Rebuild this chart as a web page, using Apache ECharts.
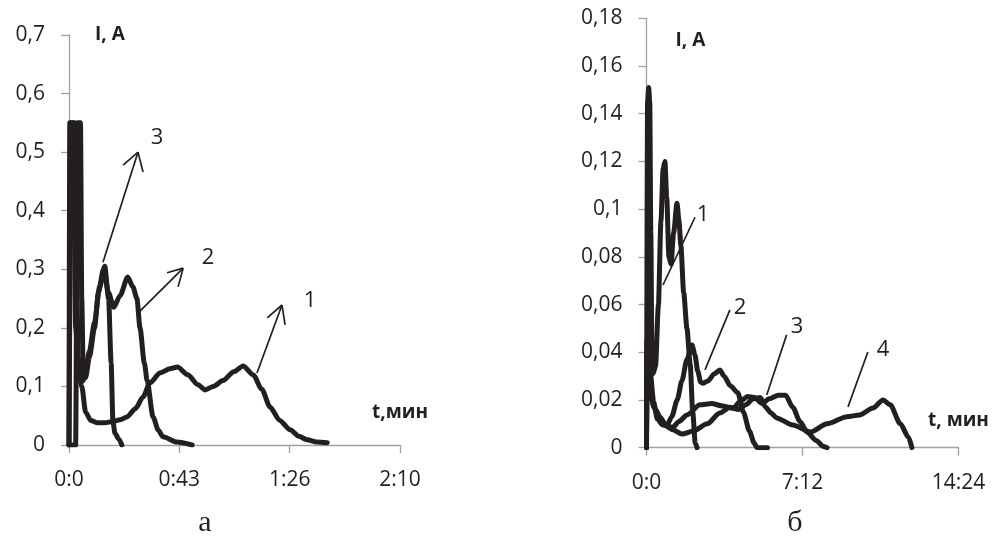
<!DOCTYPE html>
<html>
<head>
<meta charset="utf-8">
<script src="https://cdn.jsdelivr.net/npm/echarts@6/dist/echarts.min.js"></script>
<style>html,body{margin:0;padding:0;background:#fff}#c{width:997px;height:542px}</style>
</head>
<body>
<div id="c"></div>
<script>
// ---------- Panel "а" (time in seconds, current in A) ----------
const aXTicks = ['0:0', '0:43', '1:26', '2:10'];
const a1T = [0, 0.3, 1.4, 2.0, 2.6, 4, 5, 6.5, 8.5, 11, 14, 17.2, 20, 22.7, 26, 29, 31.7, 35.6, 39.5, 42.5, 46.5, 50.5, 53.3, 56.5, 60.3, 64.5, 68.2, 72.1, 75.5, 78.7, 82.5, 86.6, 90, 93.2, 97, 101.1];
const a1I = [0, 0.55, 0.55, 0.4, 0.2, 0.12, 0.1, 0.056, 0.042, 0.038, 0.038, 0.04, 0.043, 0.048, 0.062, 0.082, 0.106, 0.123, 0.13, 0.133, 0.12, 0.103, 0.094, 0.1, 0.11, 0.125, 0.135, 0.12, 0.095, 0.065, 0.042, 0.026, 0.015, 0.009, 0.005, 0.004];
const a2T = [0, 2.6, 3.3, 4.5, 5.0, 5.6, 6.5, 8, 10, 11.5, 13.5, 15.5, 17.5, 20, 23, 25, 26.6, 27.8, 29.5, 30.6, 32.9, 35, 36.8, 42.3, 48.2];
const a2I = [0, 0, 0.55, 0.55, 0.25, 0.12, 0.115, 0.15, 0.2, 0.26, 0.3, 0.26, 0.235, 0.255, 0.287, 0.27, 0.25, 0.2, 0.14, 0.11, 0.048, 0.025, 0.014, 0.005, 0];
const a3T = [0, 0.9, 2.2, 2.8, 3.6, 4.5, 5.5, 6.5, 8, 10, 12, 14, 15.5, 16.5, 17.2, 18, 19.5, 20.7];
const a3I = [0, 0.55, 0.55, 0.35, 0.15, 0.115, 0.11, 0.13, 0.16, 0.21, 0.27, 0.305, 0.25, 0.14, 0.04, 0.02, 0.01, 0];

// annotation arrows for panel "а": [shaft start, tip, wing A, wing B] in data units, and label point
const aArrowNames = ['3', '2', '1'];
const aArrowStart = [[13.3, 0.312], [27.0, 0.225], [73.6, 0.123]];
const aArrowTip = [[27.0, 0.5], [44.7, 0.302], [83.4, 0.239]];
const aArrowWingA = [[21.2, 0.478], [38.4, 0.294], [77.6, 0.217]];
const aArrowWingB = [[29.0, 0.466], [42.7, 0.27], [84.6, 0.205]];
const aLabelPos = [[34.5, 0.524], [54.4, 0.319], [94.4, 0.247]];

// ---------- Panel "б" ----------
const bXTicks = ['0:0', '7:12', '14:24'];
const b1T = [0, 3, 6, 9, 12, 15, 18, 25, 33, 40, 46, 51, 56, 62, 68, 75, 84.5, 90, 95, 103, 112, 121, 128, 135, 140];
const b1I = [0, 0.145, 0.151, 0.145, 0.09, 0.04, 0.031, 0.034, 0.06, 0.095, 0.117, 0.12, 0.105, 0.08, 0.077, 0.09, 0.1025, 0.095, 0.085, 0.065, 0.05, 0.035, 0.015, 0.002, 0];
const b2T = [0, 1, 5, 10, 20, 35, 57, 70, 85, 98, 112, 126, 134, 142, 150, 156, 170, 188, 203, 215, 232, 253, 268, 285, 298, 306, 335];
const b2I = [0, 0.045, 0.032, 0.024, 0.017, 0.012, 0.0095, 0.013, 0.02, 0.028, 0.037, 0.043, 0.039, 0.032, 0.0275, 0.027, 0.028, 0.031, 0.0326, 0.03, 0.026, 0.023, 0.015, 0.007, 0.002, 0, 0];
const b3T = [0, 1, 5, 10, 20, 30, 45, 73, 90, 112, 148, 180, 210, 240, 260, 280, 300, 320, 340, 365, 385, 405, 425, 445, 470, 490, 500];
const b3I = [0, 0.04, 0.035, 0.032, 0.019, 0.012, 0.0095, 0.0086, 0.011, 0.0137, 0.018, 0.0185, 0.0175, 0.0165, 0.0195, 0.0215, 0.021, 0.0185, 0.0205, 0.022, 0.022, 0.017, 0.011, 0.0065, 0.003, 0.0005, 0];
const b4T = [0, 2, 8, 15, 25, 37, 55, 73, 98, 130, 168, 203, 231, 255, 275, 295, 315, 330, 345, 360, 405, 455, 500, 555, 590, 627, 655, 675, 703, 725, 735];
const b4I = [0, 0.03, 0.024, 0.02, 0.016, 0.013, 0.009, 0.0075, 0.0057, 0.007, 0.01, 0.0145, 0.017, 0.016, 0.018, 0.0205, 0.021, 0.017, 0.0145, 0.0125, 0.0095, 0.0066, 0.01, 0.013, 0.0137, 0.0166, 0.02, 0.018, 0.01, 0.0045, 0];

const bLineNames = ['1', '2', '3', '4'];
const bLineStart = [[45.7, 0.0682], [162, 0.0326], [333, 0.0221], [558, 0.0171]];
const bLineEnd = [[134.3, 0.0966], [231, 0.0578], [388, 0.0473], [613, 0.0401]];
const bLabelPos = [[156.5, 0.0976], [259, 0.0586], [417, 0.0506], [655, 0.041]];

// ---------- build ----------
const INK = '#231f20';
const AXIS = '#a0a0a0';
const FONT = '"Open Sans", "Noto Sans", sans-serif';
const zip = (t, v) => t.map((x, i) => [x, v[i]]);
const commaFmt = v => String(+v.toFixed(3)).replace('.', ',');

function curve(name, t, v, xi, yi) {
  return {
    type: 'line', name, xAxisIndex: xi, yAxisIndex: yi, data: zip(t, v),
    showSymbol: false, symbol: 'none', smooth: 0.25, smoothMonotone: 'x',
    lineStyle: { color: INK, width: 5, cap: 'round', join: 'round' },
    silent: true, animation: false, z: 3
  };
}

function segs(pairs) {
  return pairs.map(p => [{ coord: p[0] }, { coord: p[1] }]);
}

const aSegs = [];
aArrowNames.forEach((n, i) => {
  aSegs.push([aArrowStart[i], aArrowTip[i]]);
  aSegs.push([aArrowWingA[i], aArrowTip[i]]);
  aSegs.push([aArrowWingB[i], aArrowTip[i]]);
});
const bSegs = bLineNames.map((n, i) => [bLineStart[i], bLineEnd[i]]);

function annotation(xi, yi, segments, names, pos) {
  return {
    type: 'line', xAxisIndex: xi, yAxisIndex: yi, data: [], silent: true, animation: false,
    markLine: {
      silent: true, animation: false, symbol: ['none', 'none'],
      lineStyle: { color: INK, width: 1.7, type: 'solid' },
      label: { show: false }, emphasis: { disabled: true },
      data: segs(segments)
    },
    markPoint: {
      silent: true, animation: false, symbol: 'circle', symbolSize: 1,
      itemStyle: { color: 'rgba(0,0,0,0)' },
      label: { show: true, position: 'inside', color: INK, fontSize: 22, fontFamily: FONT },
      data: names.map((n, i) => ({ coord: pos[i], value: n, label: { formatter: n } }))
    }
  };
}

function yAxis(gi, max, interval, nameGap, padLeft) {
  return {
    type: 'value', gridIndex: gi, min: 0, max, interval,
    name: 'I, A', nameLocation: 'end', nameGap,
    nameTextStyle: { fontWeight: 'bold', fontSize: 19, color: INK, fontFamily: FONT, align: 'left', verticalAlign: 'middle', padding: [0, 0, 0, padLeft] },
    axisLine: { show: true, lineStyle: { color: AXIS, width: 1.3 } },
    axisTick: { show: true, length: 8, lineStyle: { color: AXIS, width: 1.3 } },
    splitLine: { show: false },
    axisLabel: { margin: 24, fontSize: 21, color: INK, fontFamily: FONT, formatter: commaFmt }
  };
}

function xAxis(gi, max, interval, labels, name, padBottom) {
  return {
    type: 'value', gridIndex: gi, min: 0, max, interval,
    name, nameLocation: 'end', nameGap: 0,
    nameTextStyle: { fontWeight: 'bold', fontSize: 19, color: INK, fontFamily: FONT, align: 'center', verticalAlign: 'bottom', padding: [0, 0, padBottom, 0] },
    axisLine: { show: true, onZero: false, lineStyle: { color: AXIS, width: 1.3 } },
    axisTick: { show: true, length: 8, lineStyle: { color: AXIS, width: 1.3 } },
    splitLine: { show: false },
    axisLabel: { margin: 25, fontSize: 21, color: INK, fontFamily: FONT, formatter: v => labels[Math.round(v / interval)] ?? '' }
  };
}

const chart = echarts.init(document.getElementById('c'), null, { renderer: 'canvas' });
chart.setOption({
  animation: false,
  backgroundColor: '#fff',
  grid: [
    { left: 69, top: 35, width: 331, height: 410 },
    { left: 646.5, top: 18.3, width: 312, height: 429.4 }
  ],
  xAxis: [
    xAxis(0, 129.6, 43.2, aXTicks, 't,мин', 23),
    xAxis(1, 864, 432, bXTicks, 't, мин', 18)
  ],
  yAxis: [
    yAxis(0, 0.7, 0.1, 0, 26),
    yAxis(1, 0.18, 0.02, -22, 29)
  ],
  series: [
    curve('1', a1T, a1I, 0, 0),
    curve('2', a2T, a2I, 0, 0),
    curve('3', a3T, a3I, 0, 0),
    annotation(0, 0, aSegs, aArrowNames, aLabelPos),
    curve('1', b1T, b1I, 1, 1),
    curve('2', b2T, b2I, 1, 1),
    curve('3', b3T, b3I, 1, 1),
    curve('4', b4T, b4I, 1, 1),
    annotation(1, 1, bSegs, bLineNames, bLabelPos)
  ],
  graphic: [
    { type: 'text', x: 205, y: 523, style: { text: 'а', fontSize: 30, fontFamily: '"Liberation Serif", serif', fill: INK, align: 'center', verticalAlign: 'middle' } },
    { type: 'text', x: 795, y: 523, style: { text: 'б', fontSize: 30, fontFamily: '"Liberation Serif", serif', fill: INK, align: 'center', verticalAlign: 'middle' } }
  ]
});
</script>
</body>
</html>
